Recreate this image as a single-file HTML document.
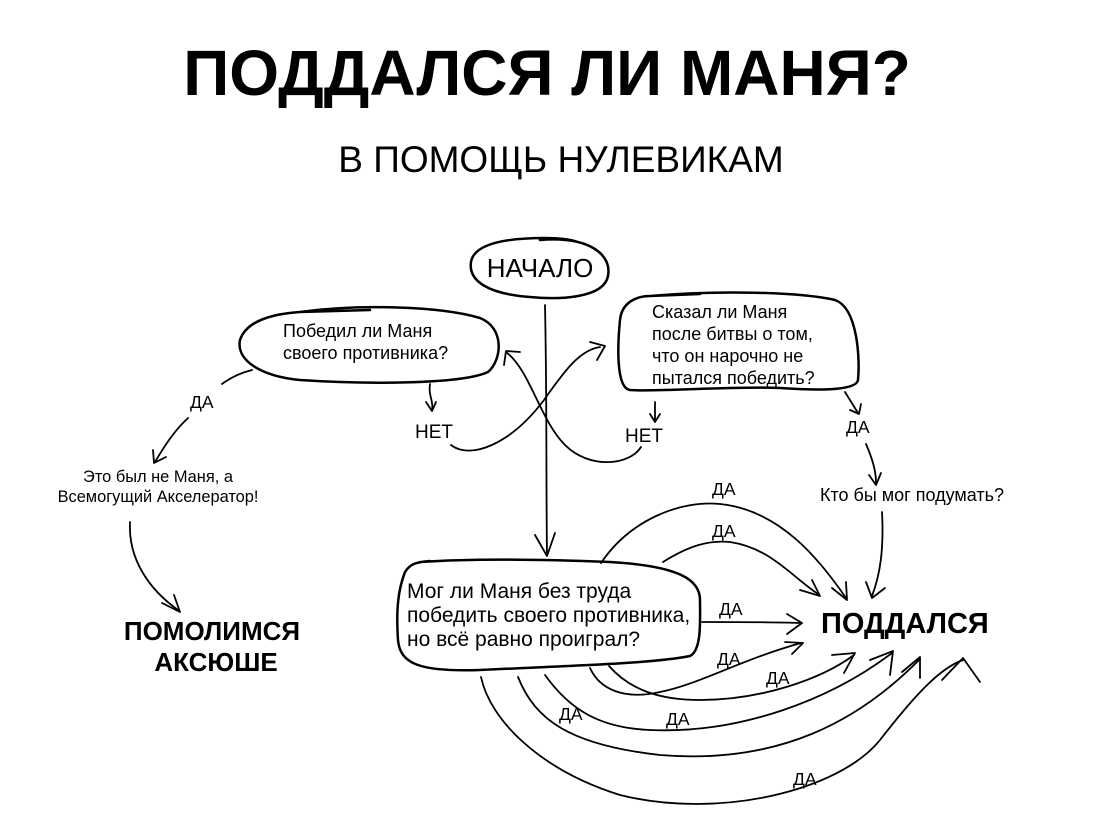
<!DOCTYPE html>
<html><head><meta charset="utf-8"><style>
html,body{margin:0;padding:0;background:#fff;}
svg{display:block;}
text{font-family:"Liberation Sans",sans-serif;fill:#000;}
</style></head><body>
<svg width="1103" height="821" viewBox="0 0 1103 821" xmlns="http://www.w3.org/2000/svg">
<text x="547" y="95" text-anchor="middle" font-size="64" font-weight="bold">ПОДДАЛСЯ ЛИ МАНЯ?</text>
<text x="561" y="172" text-anchor="middle" font-size="37">В ПОМОЩЬ НУЛЕВИКАМ</text>

<g fill="none" stroke="#000" stroke-width="2.5" stroke-linecap="round" stroke-linejoin="round">
<path d="M540 240 C590 236 612 255 608 276 C604 298 560 300 530 297 C490 294 468 282 471 262 C474 244 505 238 545 238 C560 238 572 240 578 242"/>
<path d="M300 312 C360 304 440 306 480 318 C505 328 502 360 488 372 C460 385 360 384 300 380 C260 376 236 360 240 340 C246 322 270 314 300 312 L370 310"/>
<path d="M650 296 C720 290 800 292 835 300 C858 308 860 360 858 380 C856 392 810 390 780 388 C730 386 660 392 630 390 C615 388 618 340 620 320 C622 300 640 296 650 296 L700 294"/>
<path d="M420 562 C480 558 560 560 610 562 C680 566 700 580 700 600 C700 620 702 650 690 656 C650 664 560 666 480 670 C420 672 400 664 398 640 C396 610 398 590 405 572 C410 564 416 562 430 561"/>
</g>

<g fill="none" stroke="#000" stroke-width="1.8" stroke-linecap="round" stroke-linejoin="round">
<path d="M545 305 C547 400 546 480 547 555"/>
<path d="M535 535 L547 556 L555 533"/>
<path d="M451 445 C470 460 510 445 544 400 C565 370 580 350 600 347"/>
<path d="M590 342 L605 346 L597 360"/>
<path d="M641 447 C630 465 590 470 565 445 C540 420 530 370 506 352"/>
<path d="M504 365 L506 351 L520 352"/>
<path d="M430 384 C428 395 434 402 432 410"/><path d="M426 402 L432 411 L436 402"/>
<path d="M655 402 L655 420"/><path d="M650 414 L655 422 L660 414"/>
<path d="M845 392 L858 413"/><path d="M850 410 L859 414 L861 404"/>
<path d="M866 444 C872 458 876 470 876 483"/><path d="M869 475 L876 485 L881 473"/>
<path d="M252 370 C240 373 230 378 222 384"/>
<path d="M188 418 C175 430 165 445 155 462"/><path d="M153 450 L154 463 L166 457"/>
<path d="M130 522 C128 560 150 590 178 610"/><path d="M162 603 L180 612 L174 595"/>
<path d="M882 512 C884 550 880 575 872 596"/><path d="M866 582 L872 598 L885 588"/>
<path d="M601 563 C630 520 680 500 720 504 C780 510 820 560 846 598"/><path d="M832 588 L847 600 L846 582"/>
<path d="M663 562 C690 545 710 540 730 542 C770 548 790 575 818 594"/><path d="M800 590 L820 596 L812 580"/>
<path d="M702 622 C740 622 770 622 800 623"/><path d="M787 614 L802 623 L787 634"/>
<path d="M590 668 C600 690 625 700 660 692 C700 684 740 660 801 643"/><path d="M785 642 L803 643 L792 654"/>
<path d="M609 666 C630 690 660 700 700 700 C760 700 820 680 854 655"/><path d="M832 655 L855 653 L844 673"/>
<path d="M545 675 C570 710 600 728 650 730 C740 734 830 700 892 653"/><path d="M870 660 L893 651 L890 675"/>
<path d="M518 677 C535 720 570 745 660 755 C780 765 860 720 920 659"/><path d="M902 672 L920 657 L920 678"/>
<path d="M481 677 C490 720 540 770 620 795 C720 820 840 790 880 740 C915 695 940 668 963 660"/>
<path d="M942 680 L963 658 L980 682"/>
</g>

<text x="540" y="277" text-anchor="middle" font-size="26">НАЧАЛО</text>
<g font-size="18">
<text x="283" y="337">Победил ли Маня</text>
<text x="283" y="359">своего противника?</text>
<text x="652" y="318">Сказал ли Маня</text>
<text x="652" y="340">после битвы о том,</text>
<text x="652" y="362">что он нарочно не</text>
<text x="652" y="384">пытался победить?</text>
<text x="820" y="501">Кто бы мог подумать?</text>
</g>
<g font-size="19">
<text x="415" y="438">НЕТ</text>
<text x="625" y="442">НЕТ</text>
</g>
<g font-size="17.5">
<text x="846" y="433">ДА</text>
<text x="190" y="408">ДА</text>
<text x="712" y="495">ДА</text>
<text x="712" y="537">ДА</text>
<text x="719" y="615">ДА</text>
<text x="717" y="665">ДА</text>
<text x="766" y="684">ДА</text>
<text x="559" y="720">ДА</text>
<text x="666" y="725">ДА</text>
<text x="793" y="785">ДА</text>
</g>
<g font-size="16.4" text-anchor="middle">
<text x="158" y="482">Это был не Маня, а</text>
<text x="158" y="502">Всемогущий Акселератор!</text>
</g>
<g font-size="26" font-weight="bold" text-anchor="middle">
<text x="212" y="640">ПОМОЛИМСЯ</text>
<text x="216" y="671">АКСЮШЕ</text>
</g>
<g font-size="21">
<text x="407" y="598">Мог ли Маня без труда</text>
<text x="407" y="622">победить своего противника,</text>
<text x="407" y="646">но всё равно проиграл?</text>
</g>
<text x="821" y="633" font-size="29" font-weight="bold">ПОДДАЛСЯ</text>
</svg>
</body></html>
